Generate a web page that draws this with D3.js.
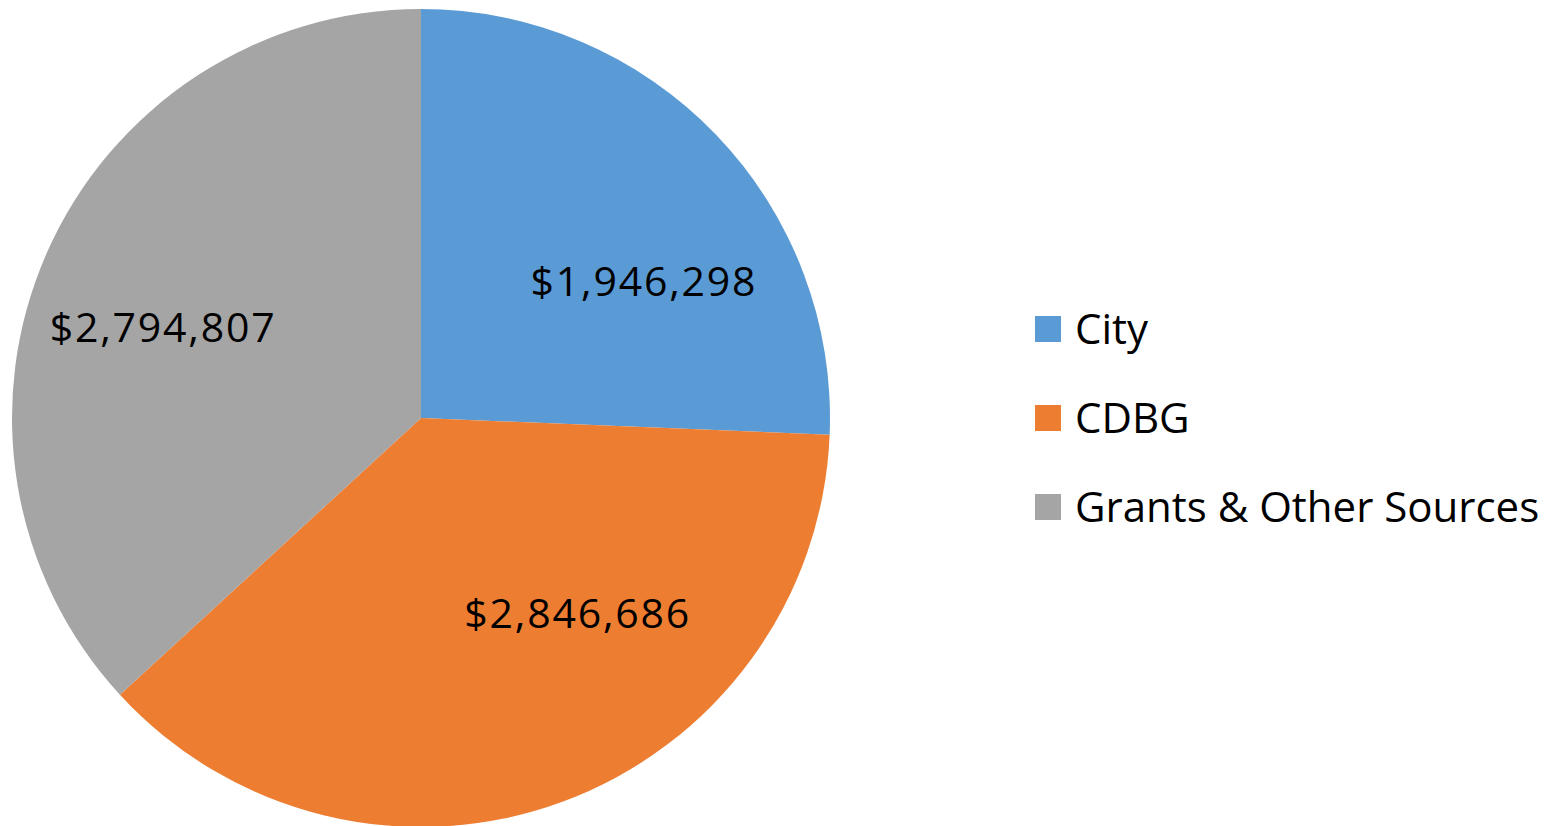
<!DOCTYPE html>
<html>
<head>
<meta charset="utf-8">
<script src="https://cdn.jsdelivr.net/npm/d3@7"></script>
<style>
  html, body { margin: 0; padding: 0; background: #fff; }
  text { font-family: "Open Sans", "Liberation Sans", sans-serif; fill: #000; }
</style>
</head>
<body>
<div id="chart"></div>
<script>
// Data
var categories = ["City", "CDBG", "Grants & Other Sources"];
var amounts = [1946298, 2846686, 2794807];
var colors = ["#5b9bd5", "#ed7d31", "#a5a5a5"];

var width = 1561, height = 826;
var cx = 421, cy = 418, radius = 409;

var svg = d3.select("#chart").append("svg")
  .attr("width", width)
  .attr("height", height);

var pie = d3.pie().sort(null).value(function(d) { return d; });
var arcs = pie(amounts);

var arc = d3.arc().innerRadius(0).outerRadius(radius);

var g = svg.append("g").attr("transform", "translate(" + cx + "," + cy + ")");

g.selectAll("path.slice")
  .data(arcs)
  .enter()
  .append("path")
  .attr("class", "slice")
  .attr("d", arc)
  .style("fill", function(d, i) { return colors[i]; });

// Labels (Excel best-fit, nudged off the centroid)
var fmt = d3.format("$,");
var labelNudge = [[37, 42], [68, -46], [-22, 13]];
var labelArc = d3.arc().innerRadius(radius * 0.63).outerRadius(radius * 0.63);

g.selectAll("text.value")
  .data(arcs)
  .enter()
  .append("text")
  .attr("class", "value")
  .attr("text-anchor", "middle")
  .attr("dy", "0.35em")
  .attr("transform", function(d, i) {
    var c = labelArc.centroid(d);
    return "translate(" + (c[0] + labelNudge[i][0]) + "," + (c[1] + labelNudge[i][1]) + ")";
  })
  .style("font-size", "41px")
  .style("letter-spacing", "1.8px")
  .text(function(d) { return fmt(d.value); });

// Legend
var legend = svg.selectAll(".legend")
  .data(categories)
  .enter()
  .append("g")
  .attr("class", "legend")
  .attr("transform", function(d, i) {
    return "translate(1035," + (316 + i * 89) + ")";
  });

legend.append("rect")
  .attr("width", 26)
  .attr("height", 26)
  .style("fill", function(d, i) { return colors[i]; });

legend.append("text")
  .attr("x", 40)
  .attr("y", 13)
  .attr("dy", "0.35em")
  .style("font-size", "42px")
  .text(function(d) { return d; });
</script>
</body>
</html>
